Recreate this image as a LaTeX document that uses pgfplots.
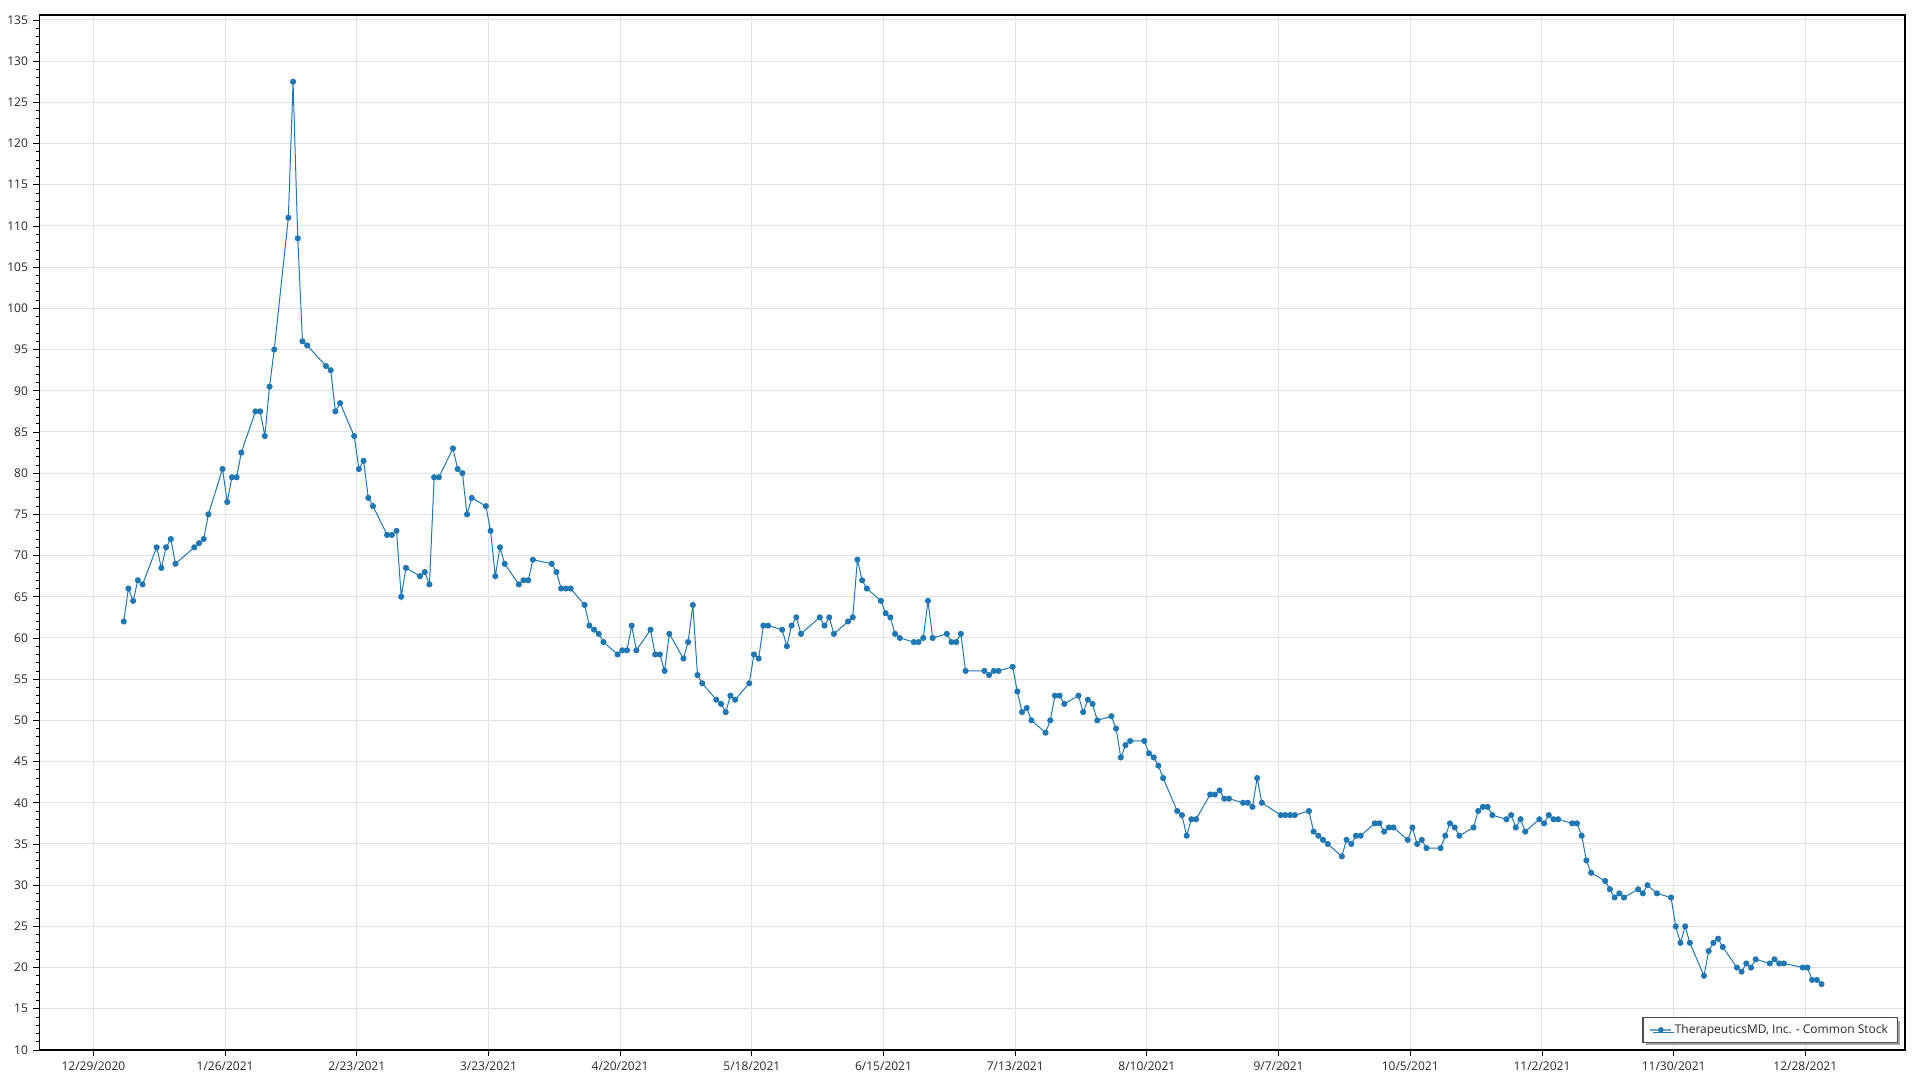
\documentclass[border=0pt]{standalone}
\usepackage{pgfplots}
\pgfplotsset{compat=1.18}
\usepackage{fontspec}
\setmainfont{Open Sans}
\usetikzlibrary{shadows}
\definecolor{series}{RGB}{31,119,180}
\definecolor{serieslight}{RGB}{110,165,205}
\definecolor{gridc}{RGB}{226,226,226}
\definecolor{txt}{RGB}{40,40,40}
\begin{document}
\begin{tikzpicture}
\begin{axis}[
  scale only axis,
  width=1399.3pt, height=776.25pt,
  xmin=-11.5, xmax=385.2,
  ymin=10, ymax=135.6,
  xtick={0,28,...,364},
  xticklabels={12/29/2020,1/26/2021,2/23/2021,3/23/2021,4/20/2021,5/18/2021,6/15/2021,7/13/2021,8/10/2021,9/7/2021,10/5/2021,11/2/2021,11/30/2021,12/28/2021},
  ytick={10,15,...,135},
  minor y tick num=4,
  xtick pos=lower, ytick pos=left,
  tick align=outside,
  major tick length=4.5pt,
  minor tick length=2.5pt,
  every tick/.style={black, line width=0.6pt},
  axis line style={black, line width=0.9pt},
  grid=major,
  major grid style={gridc, line width=0.7pt},
  /pgf/number format/assume math mode=true,
  tick label style={font=\fontsize{9}{10}\selectfont, text=txt},
  yticklabel style={xshift=-0.5pt},
  xticklabel style={yshift=-1pt},
  legend cell align=left,
  legend image code/.code={
    \draw[serieslight, line width=1.2pt, mark=none] plot coordinates {(0cm,0cm) (0.55cm,0cm)};
    \draw[series, fill=series, mark=*, mark size=1.7pt, only marks] plot coordinates {(0.275cm,0cm)};
  },
  legend style={
    at={(0.9961,0.0071)}, anchor=south east,
    draw=black!70, line width=0.8pt, fill=white,
    font=\fontsize{9}{10}\selectfont, text=txt,
    inner xsep=5pt, inner ysep=3pt,
    drop shadow={shadow xshift=2.2pt, shadow yshift=-2.2pt, fill=black!35, opacity=1},
  },
]
\addplot[series, line width=0.75pt, mark=*, mark size=1.9pt, mark options={series, fill=series}] table[x expr=\thisrowno{0}+0.45, y index=1] {
6 62.0
7 66.0
8 64.5
9 67.0
10 66.5
13 71.0
14 68.5
15 71.0
16 72.0
17 69.0
21 71.0
22 71.5
23 72.0
24 75.0
27 80.5
28 76.5
29 79.5
30 79.5
31 82.5
34 87.5
35 87.5
36 84.5
37 90.5
38 95.0
41 111.0
42 127.5
43 108.5
44 96.0
45 95.5
49 93.0
50 92.5
51 87.5
52 88.5
55 84.5
56 80.5
57 81.5
58 77.0
59 76.0
62 72.5
63 72.5
64 73.0
65 65.0
66 68.5
69 67.5
70 68.0
71 66.5
72 79.5
73 79.5
76 83.0
77 80.5
78 80.0
79 75.0
80 77.0
83 76.0
84 73.0
85 67.5
86 71.0
87 69.0
90 66.5
91 67.0
92 67.0
93 69.5
97 69.0
98 68.0
99 66.0
100 66.0
101 66.0
104 64.0
105 61.5
106 61.0
107 60.5
108 59.5
111 58.0
112 58.5
113 58.5
114 61.5
115 58.5
118 61.0
119 58.0
120 58.0
121 56.0
122 60.5
125 57.5
126 59.5
127 64.0
128 55.5
129 54.5
132 52.5
133 52.0
134 51.0
135 53.0
136 52.5
139 54.5
140 58.0
141 57.5
142 61.5
143 61.5
146 61.0
147 59.0
148 61.5
149 62.5
150 60.5
154 62.5
155 61.5
156 62.5
157 60.5
160 62.0
161 62.5
162 69.5
163 67.0
164 66.0
167 64.5
168 63.0
169 62.5
170 60.5
171 60.0
174 59.5
175 59.5
176 60.0
177 64.5
178 60.0
181 60.5
182 59.5
183 59.5
184 60.5
185 56.0
189 56.0
190 55.5
191 56.0
192 56.0
195 56.5
196 53.5
197 51.0
198 51.5
199 50.0
202 48.5
203 50.0
204 53.0
205 53.0
206 52.0
209 53.0
210 51.0
211 52.5
212 52.0
213 50.0
216 50.5
217 49.0
218 45.5
219 47.0
220 47.5
223 47.5
224 46.0
225 45.5
226 44.5
227 43.0
230 39.0
231 38.5
232 36.0
233 38.0
234 38.0
237 41.0
238 41.0
239 41.5
240 40.5
241 40.5
244 40.0
245 40.0
246 39.5
247 43.0
248 40.0
252 38.5
253 38.5
254 38.5
255 38.5
258 39.0
259 36.5
260 36.0
261 35.5
262 35.0
265 33.5
266 35.5
267 35.0
268 36.0
269 36.0
272 37.5
273 37.5
274 36.5
275 37.0
276 37.0
279 35.5
280 37.0
281 35.0
282 35.5
283 34.5
286 34.5
287 36.0
288 37.5
289 37.0
290 36.0
293 37.0
294 39.0
295 39.5
296 39.5
297 38.5
300 38.0
301 38.5
302 37.0
303 38.0
304 36.5
307 38.0
308 37.5
309 38.5
310 38.0
311 38.0
314 37.5
315 37.5
316 36.0
317 33.0
318 31.5
321 30.5
322 29.5
323 28.5
324 29.0
325 28.5
328 29.5
329 29.0
330 30.0
332 29.0
335 28.5
336 25.0
337 23.0
338 25.0
339 23.0
342 19.0
343 22.0
344 23.0
345 23.5
346 22.5
349 20.0
350 19.5
351 20.5
352 20.0
353 21.0
356 20.5
357 21.0
358 20.5
359 20.5
363 20.0
364 20.0
365 18.5
366 18.5
367 18.0
};
\addlegendentry{TherapeuticsMD, Inc. - Common Stock}
\end{axis}
\pgfresetboundingbox
\path[use as bounding box] ([shift={(-29.5pt,-22.5pt)}]current axis.south west) rectangle ([shift={(11.25pt,11.25pt)}]current axis.north east);
\end{tikzpicture}
\end{document}
